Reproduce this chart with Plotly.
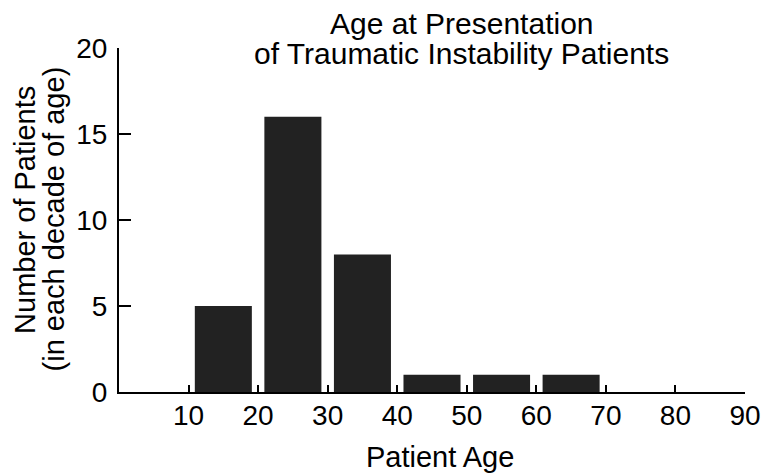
import plotly.graph_objects as go

# Data
decade_centers = [15, 25, 35, 45, 55, 65]
patient_counts = [5, 16, 8, 1, 1, 1]
x_tick_values = [10, 20, 30, 40, 50, 60, 70, 80, 90]
y_tick_values = [0, 5, 10, 15, 20]
title_lines = ["Age at Presentation", "of Traumatic Instability Patients"]
y_title_lines = ["Number of Patients", "(in each decade of age)"]
x_title = "Patient Age"

FONT = "Liberation Sans, Arial, Helvetica, sans-serif"

fig = go.Figure()
fig.add_trace(go.Bar(
    x=decade_centers,
    y=patient_counts,
    width=8.2,
    marker=dict(color="#222222", line=dict(width=0)),
    showlegend=False,
))

# page body has an 8px default margin, so the figure is sized/offset to fit
fig.update_layout(
    width=765,
    height=467,
    margin=dict(l=111, r=28, t=40, b=83),
    paper_bgcolor="white",
    plot_bgcolor="white",
    font=dict(family=FONT, color="black", size=28),
    xaxis=dict(
        range=[0, 90],
        tickvals=x_tick_values,
        ticktext=[str(v) for v in x_tick_values],
        ticks="inside",
        ticklen=7,
        tickwidth=2,
        tickcolor="black",
        showline=True,
        linewidth=2,
        linecolor="black",
        showgrid=False,
        zeroline=False,
        ticklabelstandoff=-3,
        tickfont=dict(size=28),
    ),
    yaxis=dict(
        range=[0, 20],
        tickvals=y_tick_values,
        ticks="inside",
        ticklen=12,
        tickwidth=2,
        tickcolor="black",
        showline=True,
        linewidth=2,
        linecolor="black",
        showgrid=False,
        zeroline=False,
        ticklabelstandoff=4,
        tickfont=dict(size=28),
    ),
)

annos = []
# title lines
for txt, yy in zip(title_lines, [1.0698, 0.9826]):
    annos.append(dict(text=txt, x=0.5476, y=yy, xref="paper", yref="paper",
                      xanchor="center", yanchor="middle", showarrow=False,
                      font=dict(size=30, family=FONT, color="black")))
# y-axis title lines
for txt, xx, yy in zip(y_title_lines, [-0.1503, -0.1031], [0.529, 0.503]):
    annos.append(dict(text=txt, x=xx, y=yy, xref="paper", yref="paper",
                      xanchor="center", yanchor="middle", showarrow=False,
                      textangle=-90,
                      font=dict(size=29, family=FONT, color="black")))
# x-axis title
annos.append(dict(text=x_title, x=0.5124, y=-0.189, xref="paper", yref="paper",
                  xanchor="center", yanchor="middle", showarrow=False,
                  font=dict(size=29, family=FONT, color="black")))
fig.update_layout(annotations=annos)

fig.write_html("out.html")
